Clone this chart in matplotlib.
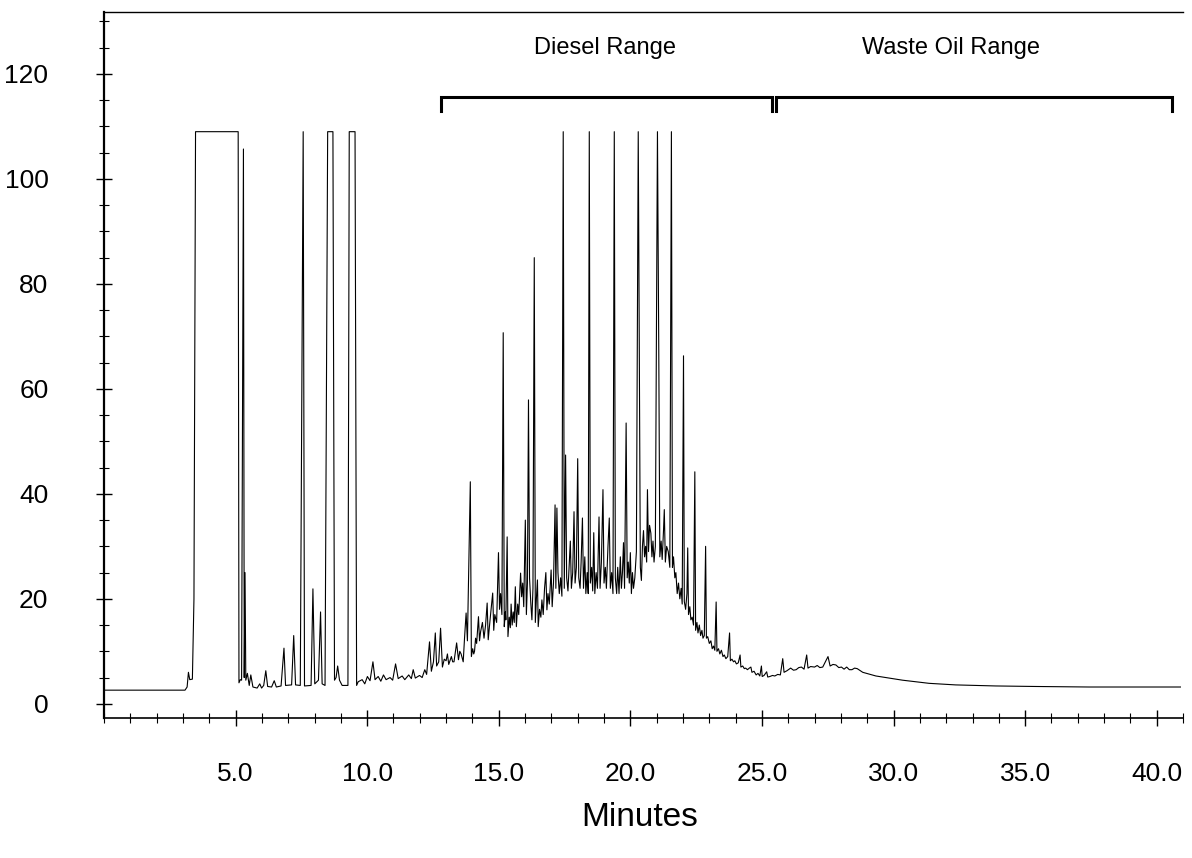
import matplotlib.pyplot as plt
from matplotlib.ticker import MultipleLocator, FormatStrFormatter

# (minutes, response), in three stretches
early_peaks = [
    (0.0, 2.6), (3.08, 2.6), (3.16, 3.2), (3.21, 6.0), (3.26, 4.6), (3.36, 4.7), (3.42, 20.0),
    (3.48, 109.0), (5.10, 109.0), (5.13, 4.0), (5.18, 4.6), (5.23, 4.5), (5.30, 105.7),
    (5.33, 5.0), (5.36, 25.0), (5.39, 4.5), (5.45, 5.8), (5.52, 3.5), (5.58, 5.5), (5.66, 3.2),
    (5.82, 3.0), (5.92, 3.8), (5.99, 3.0), (6.07, 3.5), (6.15, 6.3), (6.22, 3.3), (6.37, 3.2),
    (6.47, 4.4), (6.55, 3.2), (6.73, 3.4), (6.84, 10.6), (6.90, 3.5), (7.13, 3.6), (7.21, 13.0),
    (7.28, 3.6), (7.46, 3.5), (7.57, 109.0), (7.62, 3.4), (7.87, 3.5), (7.94, 21.9), (8.01, 3.8),
    (8.15, 4.5), (8.23, 17.5), (8.29, 3.8), (8.40, 3.5), (8.50, 109.0), (8.70, 109.0),
    (8.76, 4.5), (8.82, 5.0), (8.88, 7.2), (8.95, 4.5), (9.05, 3.5), (9.27, 3.5), (9.32, 109.0),
    (9.54, 109.0), (9.60, 3.5), (9.66, 4.2), (9.81, 4.6), (9.91, 3.8), (10.01, 5.2),
    (10.11, 4.4), (10.22, 8.0), (10.30, 4.6), (10.42, 5.2), (10.52, 4.3), (10.62, 5.5),
    (10.72, 4.6), (10.87, 5.0), (10.97, 4.5), (11.08, 7.6), (11.18, 4.8), (11.33, 5.3),
    (11.43, 4.6), (11.58, 5.5), (11.68, 4.8), (11.75, 6.5), (11.83, 4.9), (11.99, 5.4),
    (12.09, 5.0), (12.19, 6.5), (12.26, 5.6), (12.37, 11.8), (12.44, 6.2), (12.52, 8.0),
    (12.59, 13.5), (12.64, 7.2), (12.72, 8.0), (12.79, 14.4), (12.86, 7.0), (12.93, 8.5),
    (13.00, 8.2), (13.05, 9.5), (13.10, 7.5), (13.20, 9.0), (13.25, 8.0), (13.30, 8.0),
    (13.40, 11.6), (13.47, 8.4), (13.52, 10.0), (13.57, 9.5), (13.65, 8.0), (13.70, 12.5),
    (13.76, 17.3), (13.81, 12.0), (13.92, 42.3), (13.96, 9.0), (14.01, 10.5), (14.05, 9.5),
    (14.08, 10.0), (14.12, 12.5), (14.16, 11.5), (14.23, 16.6), (14.27, 12.0), (14.31, 13.7),
    (14.38, 15.5), (14.44, 12.5), (14.50, 15.0), (14.56, 19.2), (14.60, 12.2), (14.67, 16.0),
    (14.77, 21.1), (14.81, 14.0), (14.85, 17.0), (14.92, 15.5), (14.99, 28.8), (15.03, 18.0),
    (15.07, 21.0), (15.12, 17.0), (15.17, 70.7),
]

hump_peaks = [
    (15.21, 14.7), (15.25, 17.5), (15.27, 16.0), (15.32, 31.8), (15.35, 12.8), (15.40, 16.5),
    (15.44, 14.5), (15.47, 19.0), (15.51, 15.0), (15.55, 17.5), (15.59, 15.5), (15.63, 22.3),
    (15.67, 14.7), (15.72, 19.0), (15.76, 17.0), (15.83, 24.9), (15.87, 20.4), (15.91, 23.0),
    (15.95, 18.5), (16.01, 35.0), (16.05, 17.0), (16.09, 23.0), (16.13, 57.9), (16.17, 24.0),
    (16.22, 19.0), (16.26, 16.0), (16.30, 22.0), (16.35, 85.0), (16.39, 15.5), (16.43, 20.0),
    (16.47, 23.6), (16.50, 14.7), (16.55, 18.0), (16.60, 16.5), (16.64, 19.8), (16.69, 17.0),
    (16.74, 22.0), (16.79, 25.0), (16.83, 17.9), (16.87, 21.0), (16.92, 19.0), (16.99, 25.5),
    (17.03, 18.5), (17.08, 23.0), (17.14, 37.9), (17.17, 22.0), (17.21, 37.3), (17.25, 25.0),
    (17.30, 21.0), (17.35, 24.0), (17.40, 20.5), (17.45, 109.0), (17.49, 22.0), (17.54, 47.4),
    (17.58, 24.0), (17.63, 21.5), (17.68, 27.0), (17.72, 31.0), (17.76, 22.0), (17.81, 25.0),
    (17.86, 36.6), (17.90, 23.0), (17.95, 26.0), (18.00, 46.7), (18.04, 24.0), (18.09, 22.0),
    (18.13, 27.0), (18.18, 35.4), (18.22, 22.0), (18.27, 28.0), (18.31, 21.0), (18.36, 25.0),
    (18.40, 21.0), (18.44, 109.0), (18.48, 23.0), (18.53, 26.0), (18.57, 21.5), (18.61, 32.6),
    (18.65, 21.0), (18.70, 25.0), (18.75, 22.0), (18.81, 35.6), (18.85, 22.0), (18.90, 27.0),
    (18.96, 40.8), (19.00, 23.0), (19.05, 26.0), (19.09, 22.0), (19.15, 30.0), (19.20, 35.4),
    (19.24, 22.0), (19.29, 25.0), (19.34, 21.0), (19.39, 109.0), (19.43, 24.0), (19.48, 21.0),
    (19.52, 26.0), (19.57, 21.0), (19.62, 28.0), (19.66, 22.0), (19.70, 25.0), (19.74, 30.7),
    (19.78, 22.0), (19.84, 53.5), (19.88, 24.0), (19.92, 27.0), (19.96, 23.0), (20.00, 28.8),
    (20.04, 21.0), (20.08, 25.0), (20.12, 22.0), (20.17, 24.0), (20.23, 29.0), (20.30, 109.0),
    (20.34, 68.4), (20.38, 26.0), (20.42, 23.5), (20.46, 30.0), (20.50, 33.0), (20.54, 28.0),
    (20.58, 30.0), (20.62, 27.0), (20.65, 40.8), (20.69, 29.0), (20.73, 34.0), (20.78, 32.5),
    (20.82, 28.0), (20.86, 31.0), (20.90, 27.0), (20.95, 30.0), (21.03, 109.0), (21.08, 67.4),
    (21.12, 28.0), (21.17, 31.0), (21.21, 27.5), (21.26, 33.0), (21.29, 37.0), (21.33, 27.0),
    (21.38, 30.0), (21.44, 29.0), (21.50, 26.0), (21.56, 109.0), (21.60, 26.0), (21.64, 28.0),
    (21.69, 24.0), (21.73, 25.0), (21.78, 21.0), (21.83, 23.0), (21.88, 20.0), (21.93, 22.0),
    (21.97, 19.0), (22.02, 66.3), (22.05, 19.5), (22.10, 18.0), (22.15, 21.0), (22.18, 29.7),
    (22.21, 17.0), (22.26, 18.5), (22.30, 16.0), (22.35, 16.5), (22.40, 15.0), (22.45, 44.2),
    (22.48, 14.0), (22.53, 15.5), (22.57, 13.5), (22.62, 15.0), (22.67, 13.0), (22.72, 14.0),
    (22.76, 12.5), (22.81, 13.0), (22.86, 30.0), (22.89, 12.5), (22.94, 12.8), (23.00, 11.5),
    (23.06, 12.0), (23.11, 10.5), (23.16, 11.0), (23.21, 10.2), (23.26, 19.4), (23.29, 10.0),
    (23.35, 10.5), (23.40, 9.5), (23.46, 10.2), (23.52, 9.0), (23.57, 9.3), (23.63, 8.6),
    (23.70, 9.0), (23.77, 13.5), (23.80, 8.2), (23.86, 8.5), (23.92, 8.0), (23.97, 8.2),
    (24.03, 7.6), (24.10, 7.8), (24.17, 9.3), (24.20, 7.0), (24.27, 7.2), (24.33, 6.7),
    (24.38, 6.8), (24.45, 6.5), (24.52, 6.8), (24.58, 7.0), (24.62, 6.0), (24.70, 6.2),
    (24.78, 5.5), (24.85, 5.8), (24.92, 5.3), (24.98, 7.2), (25.01, 5.2), (25.08, 5.4),
    (25.18, 6.1), (25.22, 5.1), (25.30, 5.2), (25.40, 5.4),
]

tail_peaks = [
    (25.49, 5.3), (25.60, 5.6), (25.70, 5.5), (25.79, 8.6), (25.84, 6.0), (25.95, 6.3),
    (26.09, 6.8), (26.20, 6.4), (26.30, 6.5), (26.40, 6.9), (26.50, 7.0), (26.60, 6.6),
    (26.70, 9.3), (26.75, 6.8), (26.85, 7.1), (27.00, 7.0), (27.10, 7.3), (27.20, 6.9),
    (27.31, 7.0), (27.51, 9.0), (27.59, 7.2), (27.70, 7.5), (27.81, 7.4), (27.92, 6.9),
    (28.02, 7.0), (28.12, 6.6), (28.22, 7.0), (28.32, 6.5), (28.42, 6.5), (28.52, 6.8),
    (28.62, 6.7), (28.83, 6.0), (29.33, 5.3), (29.84, 4.9), (30.34, 4.5), (31.35, 3.9),
    (32.36, 3.6), (33.88, 3.4), (35.40, 3.3), (37.42, 3.2), (40.90, 3.2),
]

diesel_range = (12.81, 25.40)
waste_oil_range = (25.55, 40.57)

minutes = [p[0] for p in early_peaks + hump_peaks + tail_peaks]
response = [p[1] for p in early_peaks + hump_peaks + tail_peaks]

font = ["Liberation Sans Narrow", "Liberation Sans"]
plt.rcParams["font.family"] = font

fig = plt.figure(figsize=(11.92, 8.58), dpi=100)
ax = fig.add_axes([0.0872, 0.1632, 0.9053, 0.8228])

ax.plot(minutes, response, color="black", linewidth=0.8)

ax.set_xlim(0, 41.0)
ax.set_ylim(-2.7, 131.8)

ax.xaxis.set_major_locator(MultipleLocator(5))
ax.xaxis.set_minor_locator(MultipleLocator(1))
ax.xaxis.set_major_formatter(FormatStrFormatter("%.1f"))
ax.yaxis.set_major_locator(MultipleLocator(20))
ax.yaxis.set_minor_locator(MultipleLocator(5))
ax.set_xticks([5, 10, 15, 20, 25, 30, 35, 40])

ax.tick_params(axis="x", which="major", direction="inout", length=11, width=1, pad=26, labelsize=19)
ax.tick_params(axis="x", which="minor", direction="inout", length=6.5, width=0.8)
ax.tick_params(axis="y", which="major", direction="inout", length=12, width=1, pad=34, labelsize=19)
ax.tick_params(axis="y", which="minor", direction="inout", length=7, width=0.8)

ax.spines["right"].set_visible(False)
ax.spines["left"].set_linewidth(1.6)
ax.spines["bottom"].set_linewidth(1.2)
ax.spines["top"].set_linewidth(1.0)

# range brackets
bar_y = 115.6
tip_y = 113.0
for lo, hi in [diesel_range, waste_oil_range]:
    ax.plot([lo, lo, hi, hi], [tip_y, bar_y, bar_y, tip_y], color="black", linewidth=2.2,
            solid_joinstyle="miter", clip_on=False)

ax.text(19.05, 125, "Diesel Range", ha="center", va="center", fontsize=17, family=font)
ax.text(32.2, 125, "Waste Oil Range", ha="center", va="center", fontsize=17, family=font)

fig.text(640 / 1192, 1 - 818 / 858, "Minutes", ha="center", va="center", fontsize=24, family=font)

plt.savefig("out.png", dpi=100)
